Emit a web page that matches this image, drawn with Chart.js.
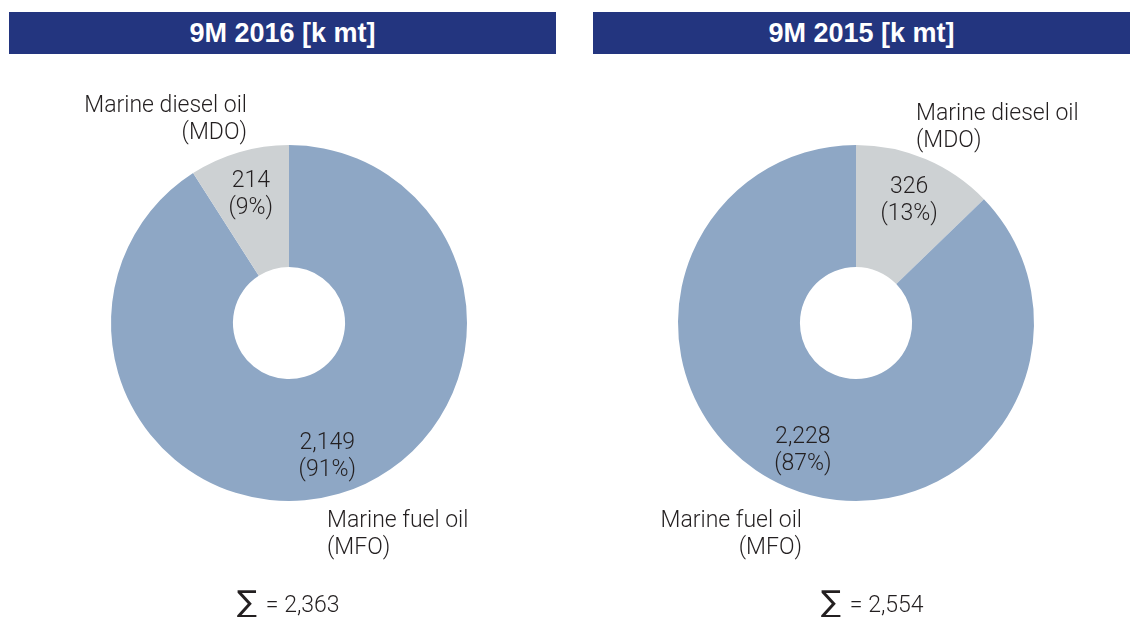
<!DOCTYPE html>
<html>
<head>
<meta charset="utf-8">
<script src="https://cdn.jsdelivr.net/npm/chart.js@4"></script>
<style>
  body { margin: 0; background: #fff; }
  #wrap { position: relative; width: 1132px; height: 617px; overflow: hidden; }
  .head {
    position: absolute; top: 12px; height: 42px; background: #23357f; color: #fff;
    font: bold 27px "Liberation Sans", Arial, sans-serif; text-align: center; line-height: 43px;
  }
  .box { position: absolute; top: 0; width: 566px; height: 617px; }
</style>
</head>
<body>
<div id="wrap">
  <div class="head" id="h0" style="left:9px;width:547px"></div>
  <div class="head" id="h1" style="left:593px;width:537px"></div>
  <div class="box" style="left:0"><canvas id="c0"></canvas></div>
  <div class="box" style="left:566px"><canvas id="c1"></canvas></div>
</div>
<script>
// data
const periods = ['9M 2016', '9M 2015'];
const unit = '[k mt]';
const categories = ['Marine diesel oil', 'Marine fuel oil'];
const shortNames = ['(MDO)', '(MFO)'];
const mdoValues = [214, 326];
const mfoValues = [2149, 2228];

const colorOf = { 0: '#cdd1d3', 1: '#8ea7c5' };
const txt = '#231f20';
const labelFont = '300 23px Roboto, "Liberation Sans", sans-serif';

// slice order per chart (index into categories) and where the names go
const orders = [[1, 0], [0, 1]];
const namePos = [
  { 0: { dx: -42, dy: [-211, -184], align: 'right' }, 1: { dx: 38, dy: [204, 231], align: 'left' }, sum: -52 },
  { 0: { dx: 60, dy: [-203, -176], align: 'left' }, 1: { dx: -54, dy: [204, 231], align: 'right' }, sum: -35 }
];
const pads = [
  { left: 111, right: 99, top: 145, bottom: 116 },
  { left: 112, right: 98, top: 145, bottom: 116 }
];

const fmt = v => v.toLocaleString('en-US');

const labelPlugin = {
  id: 'pieLabels',
  afterDatasetsDraw(chart) {
    const ctx = chart.ctx;
    const meta = chart.getDatasetMeta(0);
    const vals = chart.data.datasets[0].data;
    const total = vals.reduce((a, b) => a + b, 0);
    const ci = chart.options.plugins.pieLabels.idx;
    const ord = orders[ci];
    const pos = namePos[ci];
    ctx.save();
    ctx.fillStyle = txt;
    ctx.font = labelFont;
    ctx.textBaseline = 'alphabetic';
    let cx = 0, cy = 0;
    meta.data.forEach((arc, i) => {
      const p = arc.getProps(['x', 'y', 'startAngle', 'endAngle', 'outerRadius'], true);
      cx = p.x; cy = p.y;
      const mid = (p.startAngle + p.endAngle) / 2;
      const r = p.outerRadius * 0.765;
      const x = p.x + Math.cos(mid) * r;
      const y = p.y + Math.sin(mid) * r;
      ctx.textAlign = 'center';
      ctx.fillText(fmt(vals[i]), x, y - 5);
      ctx.fillText('(' + Math.round(vals[i] / total * 100) + '%)', x, y + 22);
      const k = ord[i];
      const np = pos[k];
      ctx.textAlign = np.align;
      ctx.fillText(categories[k], p.x + np.dx, p.y + np.dy[0]);
      ctx.fillText(shortNames[k], p.x + np.dx, p.y + np.dy[1]);
    });
    // sum line
    ctx.textAlign = 'left';
    const sx = cx + pos.sum, sy = cy + 289;
    ctx.font = '30px "DejaVu Sans", sans-serif';
    ctx.fillText('\u2211', sx, sy);
    const w = ctx.measureText('\u2211').width;
    ctx.font = labelFont;
    ctx.fillText(' = ' + fmt(total), sx + w + 3, sy);
    ctx.restore();
  }
};

periods.forEach((p, ci) => {
  document.getElementById('h' + ci).textContent = p + ' ' + unit;
  const values = { 0: mdoValues[ci], 1: mfoValues[ci] };
  const ord = orders[ci];
  new Chart(document.getElementById('c' + ci), {
    type: 'doughnut',
    data: {
      labels: ord.map(k => categories[k]),
      datasets: [{
        data: ord.map(k => values[k]),
        backgroundColor: ord.map(k => colorOf[k]),
        borderWidth: 0
      }]
    },
    options: {
      responsive: true,
      maintainAspectRatio: false,
      animation: false,
      cutout: '31.5%',
      layout: { padding: pads[ci] },
      plugins: {
        legend: { display: false },
        tooltip: { enabled: false },
        pieLabels: { idx: ci }
      }
    },
    plugins: [labelPlugin]
  });
});
</script>
</body>
</html>
